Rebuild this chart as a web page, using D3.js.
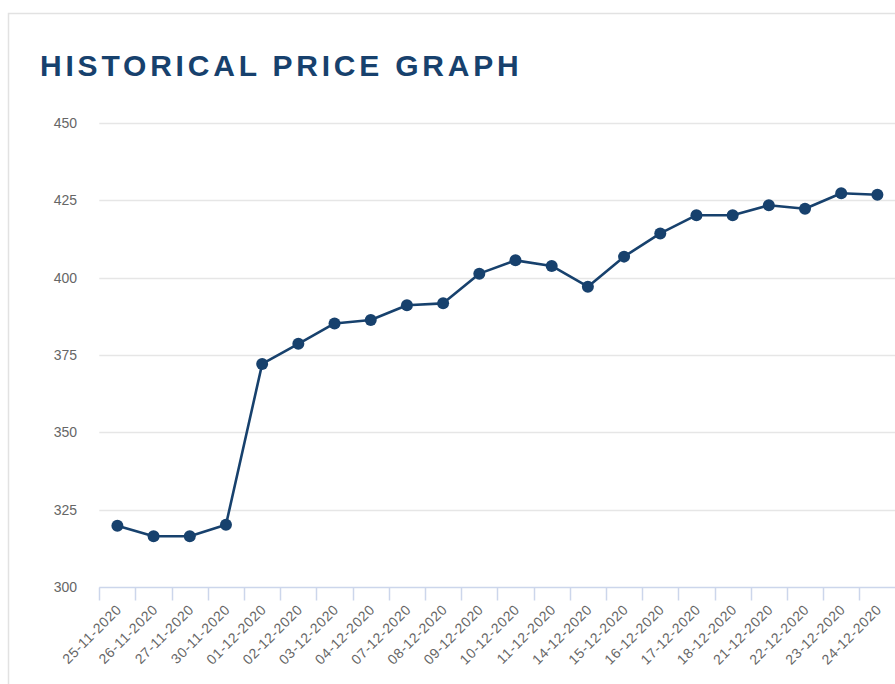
<!DOCTYPE html>
<html>
<head>
<meta charset="utf-8">
<script src="https://cdn.jsdelivr.net/npm/d3@7"></script>
<style>
  html, body { margin: 0; padding: 0; background: #fff; }
  body { width: 895px; height: 684px; overflow: hidden; }
  svg { display: block; font-family: "Liberation Sans", Arial, sans-serif; }
</style>
</head>
<body>
<div class="main"></div>
<script>
const dates = ["25-11-2020", "26-11-2020", "27-11-2020", "30-11-2020", "01-12-2020", "02-12-2020",
    "03-12-2020", "04-12-2020", "07-12-2020", "08-12-2020", "09-12-2020", "10-12-2020",
    "11-12-2020", "14-12-2020", "15-12-2020", "16-12-2020", "17-12-2020", "18-12-2020",
    "21-12-2020", "22-12-2020", "23-12-2020", "24-12-2020"];
const prices = [319.8, 316.4, 316.4, 320.1, 372.1, 378.6, 385.2, 386.3, 391.1, 391.7, 401.3,
    405.6, 403.8, 397.1, 406.8, 414.3, 420.2, 420.2, 423.4, 422.3, 427.3, 426.8];
const yTicks = [300, 325, 350, 375, 400, 425, 450];
const title = "HISTORICAL PRICE GRAPH";

const width = 895, height = 684;
const navy = "#17416d";

const svg = d3.select(".main").append("svg")
    .attr("width", width)
    .attr("height", height);

// card border (runs off the right and bottom edge)
svg.append("rect")
    .attr("x", 8.5).attr("y", 13.5)
    .attr("width", 1000).attr("height", 1000)
    .attr("fill", "#fff")
    .attr("stroke", "#e2e2e2")
    .attr("stroke-width", 1.5);

svg.append("text")
    .attr("x", 40).attr("y", 76)
    .attr("fill", navy)
    .style("font-size", "30px")
    .style("font-weight", "bold")
    .style("letter-spacing", "3.8px")
    .text(title);

const x = d3.scaleBand()
    .domain(dates)
    .range([99.3, 895.5]);

const y = d3.scaleLinear()
    .domain([300, 450])
    .range([587, 123]);

// gridlines
svg.append("g")
    .selectAll("line")
    .data(yTicks.filter(d => d !== 300))
    .enter().append("line")
    .attr("x1", 99.3).attr("x2", width)
    .attr("y1", d => Math.round(y(d)) + 0.5)
    .attr("y2", d => Math.round(y(d)) + 0.5)
    .attr("stroke", "#e6e6e6")
    .attr("stroke-width", 1.5);

// y labels
svg.append("g")
    .selectAll("text")
    .data(yTicks)
    .enter().append("text")
    .attr("x", 77)
    .attr("y", d => y(d))
    .attr("dy", "0.35em")
    .attr("text-anchor", "end")
    .attr("fill", "#666")
    .style("font-size", "14px")
    .text(d => d);

// x axis
const xAxis = svg.append("g")
    .attr("transform", "translate(0," + (Math.round(y(300)) + 0.5) + ")");

xAxis.append("line")
    .attr("x1", 99.3).attr("x2", width)
    .attr("stroke", "#ccd6eb")
    .attr("stroke-width", 1.5);

xAxis.selectAll(".tick")
    .data(dates.concat(["end"]))
    .enter().append("line")
    .attr("class", "tick")
    .attr("x1", (d, i) => Math.round(99.3 + i * x.step()) + 0.5)
    .attr("x2", (d, i) => Math.round(99.3 + i * x.step()) + 0.5)
    .attr("y1", 0).attr("y2", 13)
    .attr("stroke", "#ccd6eb")
    .attr("stroke-width", 1.5);

xAxis.selectAll(".lbl")
    .data(dates)
    .enter().append("text")
    .attr("class", "lbl")
    .attr("text-anchor", "end")
    .attr("fill", "#666")
    .style("font-size", "14px")
    .style("letter-spacing", "0.6px")
    .attr("transform", d => "translate(" + (x(d) + x.bandwidth() / 2 + 5) + ",23) rotate(-45)")
    .text(d => d);

// series
const line = d3.line()
    .x((d, i) => x(dates[i]) + x.bandwidth() / 2)
    .y(d => y(d));

svg.append("path")
    .datum(prices)
    .attr("d", line)
    .attr("fill", "none")
    .attr("stroke", navy)
    .attr("stroke-width", 2.6)
    .attr("stroke-linejoin", "round");

svg.append("g")
    .selectAll("circle")
    .data(prices)
    .enter().append("circle")
    .attr("cx", (d, i) => x(dates[i]) + x.bandwidth() / 2)
    .attr("cy", d => y(d))
    .attr("r", 6)
    .attr("fill", navy);
</script>
</body>
</html>
